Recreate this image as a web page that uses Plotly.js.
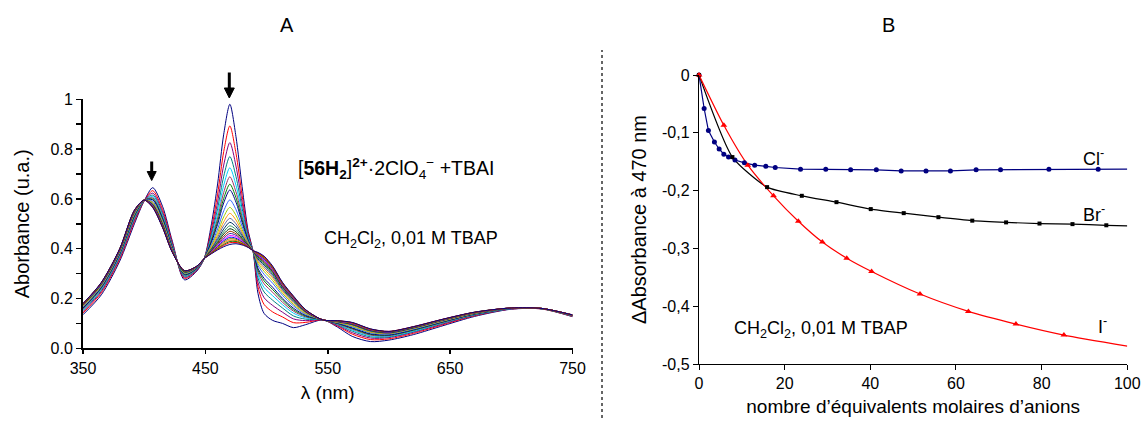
<!DOCTYPE html>
<html>
<head>
<meta charset="utf-8">
<script src="https://cdn.plot.ly/plotly-3.0.1.min.js"></script>
<style>html,body{margin:0;padding:0;background:#fff;}#chart{width:1142px;height:421px;}</style>
</head>
<body>
<div id="chart"></div>
<script>
// ---------- Panel A : absorption spectra (24 titration steps) ----------
const wavelengths = [350, 365, 380, 392, 400, 407, 415, 423, 433, 443, 449, 455, 460, 465, 470, 475, 480, 485, 489, 493, 498, 505, 513, 522, 532, 546, 558, 570, 585, 600, 620, 645, 670, 700, 725, 750];

// absorbance of each of the 24 spectra, one array per wavelength
const a350 = [.135,.142,.147,.152,.155,.158,.161,.162,.166,.168,.170,.172,.173,.174,.175,.176,.176,.177,.178,.178,.179,.179,.179,.180];
const a365 = [.215,.223,.229,.234,.238,.241,.244,.246,.249,.252,.254,.256,.257,.258,.259,.260,.261,.262,.262,.263,.264,.264,.264,.265];
const a380 = [.350,.358,.364,.369,.373,.376,.379,.381,.384,.387,.389,.391,.392,.393,.394,.395,.396,.397,.397,.398,.399,.399,.399,.400];
const a392 = [.500,.509,.515,.521,.525,.528,.531,.534,.538,.540,.543,.545,.546,.548,.549,.550,.551,.551,.552,.553,.553,.554,.554,.555];
const a400 = [.592,.592,.593,.593,.593,.594,.594,.594,.594,.594,.594,.594,.595,.595,.595,.595,.595,.595,.595,.595,.595,.595,.595,.595];
const a407 = [.645,.633,.623,.615,.609,.604,.599,.596,.590,.586,.583,.580,.578,.576,.574,.573,.571,.570,.569,.568,.567,.567,.566,.565];
const a415 = [.570,.557,.547,.538,.531,.526,.522,.518,.512,.508,.504,.501,.498,.496,.495,.493,.492,.490,.489,.488,.488,.487,.486,.485];
const a423 = [.430,.423,.418,.413,.410,.407,.404,.403,.399,.397,.395,.393,.392,.391,.390,.389,.389,.388,.387,.387,.386,.386,.386,.385];
const a433 = [.275,.281,.285,.289,.292,.294,.296,.298,.300,.302,.304,.305,.306,.307,.308,.309,.309,.310,.310,.310,.311,.311,.312,.312];
const a443 = [.310,.313,.315,.317,.319,.320,.321,.322,.324,.325,.326,.326,.327,.327,.328,.328,.328,.329,.329,.329,.329,.330,.330,.330];
const a449 = [.360,.360,.360,.360,.360,.360,.360,.360,.360,.360,.360,.360,.360,.360,.360,.360,.360,.360,.360,.360,.360,.360,.360,.360];
const a455 = [.500,.481,.467,.455,.446,.438,.432,.427,.418,.412,.407,.402,.399,.396,.393,.391,.389,.388,.386,.385,.384,.383,.381,.380];
const a460 = [.660,.619,.587,.561,.540,.523,.509,.498,.479,.465,.454,.445,.437,.430,.425,.420,.416,.412,.409,.406,.403,.401,.398,.395];
const a465 = [.860,.790,.736,.691,.655,.626,.602,.584,.552,.528,.508,.493,.479,.468,.459,.450,.443,.437,.432,.427,.422,.417,.413,.408];
const a470 = [.980,.893,.826,.770,.725,.689,.659,.636,.596,.566,.542,.522,.506,.492,.480,.470,.461,.453,.446,.440,.434,.429,.424,.417];
const a475 = [.850,.783,.732,.690,.655,.628,.605,.587,.557,.534,.515,.500,.488,.477,.468,.460,.454,.448,.442,.438,.433,.429,.425,.420];
const a480 = [.650,.614,.586,.562,.544,.529,.516,.506,.490,.477,.467,.459,.452,.446,.441,.437,.433,.430,.427,.425,.422,.420,.418,.415];
const a485 = [.470,.460,.452,.446,.441,.436,.433,.430,.426,.422,.419,.417,.415,.414,.412,.411,.410,.409,.408,.408,.407,.406,.406,.405];
const a489 = [.390,.390,.390,.390,.391,.391,.391,.391,.391,.391,.391,.391,.391,.391,.391,.391,.392,.392,.392,.392,.392,.392,.392,.392];
const a493 = [.220,.246,.265,.282,.295,.305,.314,.321,.333,.341,.348,.354,.359,.363,.367,.369,.372,.374,.376,.378,.380,.382,.383,.385];
const a498 = [.140,.176,.203,.226,.244,.259,.271,.281,.297,.309,.319,.327,.334,.339,.344,.348,.352,.355,.358,.361,.363,.365,.367,.370];
const a505 = [.112,.146,.172,.193,.211,.225,.236,.245,.261,.272,.282,.289,.296,.301,.306,.310,.313,.316,.319,.321,.323,.325,.327,.330];
const a513 = [.100,.126,.145,.162,.175,.185,.194,.201,.213,.221,.228,.234,.239,.243,.247,.249,.252,.254,.256,.258,.260,.262,.263,.265];
const a522 = [.083,.103,.118,.130,.141,.149,.155,.161,.170,.176,.182,.186,.190,.193,.196,.198,.200,.202,.203,.205,.206,.207,.208,.210];
const a532 = [.095,.104,.111,.117,.122,.126,.129,.132,.136,.139,.142,.144,.146,.147,.148,.149,.150,.151,.152,.153,.153,.154,.154,.155];
const a546 = [.114,.114,.114,.114,.114,.114,.114,.114,.114,.114,.114,.114,.114,.114,.114,.114,.114,.114,.114,.114,.114,.114,.114,.114];
const a558 = [.085,.089,.092,.095,.097,.098,.100,.101,.103,.104,.105,.106,.107,.108,.108,.109,.109,.109,.110,.110,.110,.110,.111,.111];
const a570 = [.048,.057,.063,.069,.073,.077,.080,.082,.086,.089,.092,.094,.095,.097,.098,.099,.100,.100,.101,.102,.102,.103,.103,.104];
const a585 = [.027,.035,.041,.046,.050,.053,.056,.058,.062,.064,.067,.068,.070,.071,.072,.073,.074,.075,.075,.076,.076,.077,.077,.078];
const a600 = [.033,.038,.043,.046,.049,.051,.053,.054,.057,.059,.060,.061,.062,.063,.064,.065,.065,.066,.066,.067,.067,.067,.068,.068];
const a620 = [.055,.060,.064,.067,.069,.072,.073,.075,.077,.079,.080,.081,.082,.083,.083,.084,.085,.085,.085,.086,.086,.086,.087,.087];
const a645 = [.092,.096,.099,.102,.104,.105,.107,.108,.110,.111,.112,.113,.114,.115,.115,.116,.116,.116,.117,.117,.117,.117,.118,.118];
const a670 = [.128,.131,.133,.134,.136,.137,.138,.138,.140,.140,.141,.142,.142,.143,.143,.143,.144,.144,.144,.144,.144,.145,.145,.145];
const a700 = [.157,.158,.158,.159,.159,.160,.160,.160,.160,.161,.161,.161,.161,.161,.161,.162,.162,.162,.162,.162,.162,.162,.162,.162];
const a725 = [.158,.158,.159,.159,.159,.159,.159,.159,.159,.159,.160,.160,.160,.160,.160,.160,.160,.160,.160,.160,.160,.160,.160,.160];
const a750 = [.127,.128,.129,.130,.130,.131,.131,.131,.132,.132,.132,.133,.133,.133,.133,.133,.133,.134,.134,.134,.134,.134,.134,.134];

const spectraColors = ['#000080','#FF0000','#800080','#008080','#00CCFF','#993366','#008000','#000080','#3366FF','#99CC00','#FF9900','#666699','#003366','#339966','#003300','#993300','#333399','#FF00FF','#0000FF','#808000','#FF6600','#008000','#FF0000','#000080'];

const aTickVals = [0, 0.2, 0.4, 0.6, 0.8, 1];
const aTickText = ['0.0', '0.2', '0.4', '0.6', '0.8', '1'];
const aMinorVals = [0.1, 0.3, 0.5, 0.7, 0.9];
const lambdaTicks = [350, 450, 550, 650, 750];

// ---------- Panel B : ΔA at 470 nm vs equivalents ----------
const clX = [0, 1.2, 2.2, 3.6, 4.7, 5.8, 6.9, 8.4, 10.6, 13.0, 15.6, 17.8, 23.7, 29.6, 35.4, 41.4, 47.2, 53.0, 58.7, 64.7, 70.4, 81.7, 93.2];
const clY = [0, -0.058, -0.096, -0.116, -0.128, -0.137, -0.142, -0.147, -0.152, -0.156, -0.158, -0.160, -0.163, -0.163, -0.164, -0.164, -0.166, -0.166, -0.166, -0.164, -0.164, -0.163, -0.163];
const brX = [0, 7.8, 15.9, 24.0, 32.1, 40.1, 47.8, 55.9, 63.8, 71.7, 79.5, 87.2, 95.1];
const brY = [0, -0.142, -0.194, -0.209, -0.220, -0.232, -0.239, -0.246, -0.252, -0.255, -0.257, -0.258, -0.260];
const iX = [0, 5.8, 11.4, 17.4, 23.2, 28.8, 34.5, 40.3, 51.6, 62.9, 74.0, 85.2];
const iY = [0, -0.087, -0.156, -0.209, -0.253, -0.289, -0.317, -0.340, -0.379, -0.409, -0.431, -0.450];
// value of each fitted curve at the right edge (100 equivalents)
const fitEndX = 100;
const clEnd = -0.163, brEnd = -0.261, iEnd = -0.469;
const eqTicks = [0, 20, 40, 60, 80, 100];
const dTickVals = [0, -0.1, -0.2, -0.3, -0.4, -0.5];
const dTickText = ['0', '-0,1', '-0,2', '-0,3', '-0,4', '-0,5'];

// ---------- build traces ----------
const columns = [a350,a365,a380,a392,a400,a407,a415,a423,a433,a443,a449,a455,a460,a465,a470,a475,a480,a485,a489,a493,a498,a505,a513,a522,a532,a546,a558,a570,a585,a600,a620,a645,a670,a700,a725,a750];
const traces = [];
for (let k = 0; k < spectraColors.length; k++) {
  traces.push({
    type: 'scatter', mode: 'lines', xaxis: 'x', yaxis: 'y',
    x: wavelengths, y: columns.map(c => c[k]),
    line: {color: spectraColors[k], width: 1, shape: 'spline', smoothing: 0.8},
    hoverinfo: 'skip'
  });
}
function fitTrace(xs, ys, endY, color, smooth) {
  return {type: 'scatter', mode: 'lines', xaxis: 'x2', yaxis: 'y2',
    x: xs.concat([fitEndX]), y: ys.concat([endY]),
    line: {color: color, width: 1.2, shape: smooth ? 'spline' : 'linear', smoothing: 0.6}, cliponaxis: false};
}
function ptsTrace(xs, ys, color, symbol, size) {
  return {type: 'scatter', mode: 'markers', xaxis: 'x2', yaxis: 'y2', x: xs, y: ys,
    marker: {color: color, symbol: symbol, size: size, line: {width: 0}}, cliponaxis: false};
}
traces.push(fitTrace(clX, clY, clEnd, '#000080', false));
traces.push(fitTrace(brX, brY, brEnd, '#000000', true));
traces.push(fitTrace(iX, iY, iEnd, '#FF0000', true));
traces.push(ptsTrace(clX, clY, '#000080', 'circle', 5));
traces.push(ptsTrace(brX, brY, '#000000', 'square', 4));
traces.push(ptsTrace(iX, iY, '#FF0000', 'triangle-up', 6));

const W = 1142, H = 421;
const px = v => v / W, py = v => (H - v) / H;
const tickFont = {size: 16, color: '#000'};

// arrow glyph (shaft + head) drawn as shapes, positioned in page pixels
function arrowShapes(xc, yTop, yHeadStart, yTip, halfW) {
  return [
    {type: 'line', xref: 'paper', yref: 'paper', x0: px(xc), x1: px(xc), y0: py(yTop), y1: py(yHeadStart + 1),
      line: {color: '#000', width: 3}},
    {type: 'path', xref: 'paper', yref: 'paper',
      path: `M ${px(xc - halfW)},${py(yHeadStart)} L ${px(xc + halfW)},${py(yHeadStart)} L ${px(xc)},${py(yTip)} Z`,
      fillcolor: '#000', line: {color: '#000', width: 1}}
  ];
}

const layout = {
  width: W, height: H, margin: {l: 0, r: 0, t: 0, b: 0},
  paper_bgcolor: '#fff', plot_bgcolor: '#fff', showlegend: false,
  font: {family: '"Liberation Sans", Arial, sans-serif', color: '#000'},
  xaxis: {domain: [px(83), px(572.5)], range: [350, 750], anchor: 'y',
    tickvals: lambdaTicks, ticks: 'outside', ticklen: 4, tickwidth: 1.5, tickcolor: '#000',
    showline: true, linewidth: 2, linecolor: '#000', showgrid: false, zeroline: false, tickfont: tickFont,
    title: {text: 'λ (nm)', font: {size: 19}, standoff: 10}},
  yaxis: {domain: [py(348.3), py(99.3)], range: [0, 1], anchor: 'x',
    tickvals: aTickVals, ticktext: aTickText,
    minor: {tickvals: aMinorVals, ticks: 'outside', ticklen: 5, tickwidth: 1.5, tickcolor: '#000', showgrid: false},
    ticks: 'outside', ticklen: 5, tickwidth: 1.5, tickcolor: '#000',
    showline: true, linewidth: 2, linecolor: '#000', showgrid: false, zeroline: false, tickfont: tickFont,
    title: {text: 'Aborbance (u.a.)', font: {size: 20}, standoff: 16}},
  xaxis2: {domain: [px(699), px(1127.3)], range: [0, 100], anchor: 'y2',
    tickvals: eqTicks, ticks: 'outside', ticklen: 5, tickcolor: '#000',
    showline: true, linewidth: 1.2, linecolor: '#000', showgrid: false, zeroline: false, tickfont: tickFont,
    title: {text: 'nombre d’équivalents molaires d’anions', font: {size: 19}, standoff: 8}},
  yaxis2: {domain: [py(364), py(75)], range: [-0.5, 0], anchor: 'x2',
    tickvals: dTickVals, ticktext: dTickText,
    ticks: 'outside', ticklen: 5, tickcolor: '#000',
    showline: true, linewidth: 1.2, linecolor: '#000', showgrid: false, zeroline: false, tickfont: tickFont,
    title: {text: 'ΔAbsorbance à 470 nm', font: {size: 20}, standoff: 10}},
  shapes: [
    {type: 'line', xref: 'paper', yref: 'paper', x0: px(602), x1: px(602), y0: py(418), y1: py(50),
      line: {color: '#333', width: 1.5, dash: 'dot'}}
  ].concat(arrowShapes(151.7, 161.5, 171.5, 180.5, 4.5))
   .concat(arrowShapes(229.3, 72.5, 88, 98, 5)),
  annotations: [
    {xref: 'paper', yref: 'paper', x: px(287), y: py(25), text: 'A', showarrow: false, font: {size: 20}, xanchor: 'center', yanchor: 'middle'},
    {xref: 'paper', yref: 'paper', x: px(888), y: py(25), text: 'B', showarrow: false, font: {size: 20}, xanchor: 'center', yanchor: 'middle'},
    {xref: 'x', yref: 'y', x: 605.7, y: 0.724, text: '[<b>56H<sub>2</sub></b>]<b><sup>2+</sup></b>·2ClO<sub>4</sub><sup>−</sup> +TBAI', showarrow: false, font: {size: 19.5}, xanchor: 'center', yanchor: 'middle'},
    {xref: 'x', yref: 'y', x: 618.4, y: 0.435, text: 'CH<sub>2</sub>Cl<sub>2</sub>, 0,01 M TBAP', showarrow: false, font: {size: 18}, xanchor: 'center', yanchor: 'middle'},
    {xref: 'x2', yref: 'y2', x: 28.6, y: -0.441, text: 'CH<sub>2</sub>Cl<sub>2</sub>, 0,01 M TBAP', showarrow: false, font: {size: 18}, xanchor: 'center', yanchor: 'middle'},
    {xref: 'x2', yref: 'y2', x: 92, y: -0.142, text: 'Cl<sup>-</sup>', showarrow: false, font: {size: 18}, xanchor: 'center', yanchor: 'middle'},
    {xref: 'x2', yref: 'y2', x: 92.2, y: -0.239, text: 'Br<sup>-</sup>', showarrow: false, font: {size: 18}, xanchor: 'center', yanchor: 'middle'},
    {xref: 'x2', yref: 'y2', x: 94.1, y: -0.433, text: 'I<sup>-</sup>', showarrow: false, font: {size: 18}, xanchor: 'center', yanchor: 'middle'}
  ]
};

Plotly.newPlot('chart', traces, layout, {staticPlot: true, displayModeBar: false});
</script>
</body>
</html>
